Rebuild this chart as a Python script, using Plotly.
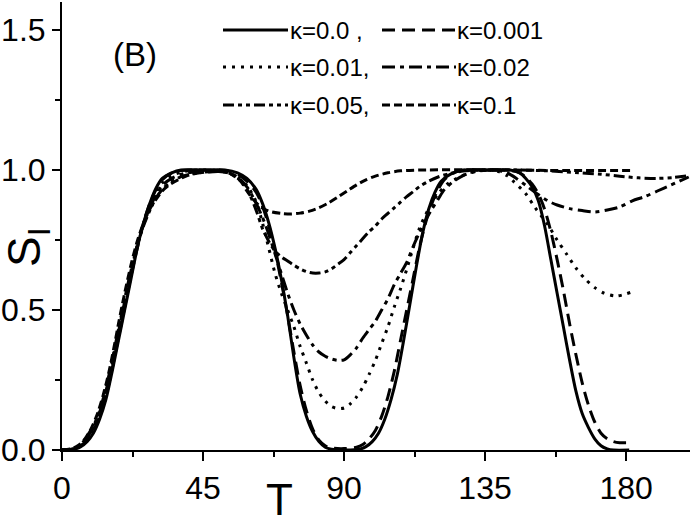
import plotly.graph_objects as go

# ---------------- data ----------------
T_k0 = [0, 4, 6, 8, 10, 12, 14, 16, 18, 20, 22, 24, 26, 28, 30, 32, 35, 38, 45, 52, 56, 59, 62, 64, 66, 68, 70, 72,
        74, 76, 78, 80, 82, 84, 86, 90, 95, 97, 99, 101, 103, 105, 107, 109, 111, 113, 115, 117, 119, 121, 124, 128,
        135, 143, 146, 148, 150, 152, 154, 156, 158, 160, 162, 164, 166, 168, 170, 172, 174, 176, 181]
S_k0 = [0, 0.003, 0.012, 0.03, 0.06, 0.11, 0.18, 0.28, 0.39, 0.50, 0.61, 0.72, 0.81, 0.88, 0.935, 0.97, 0.99, 1.0,
        1.0, 1.0, 0.99, 0.97, 0.93, 0.88, 0.81, 0.72, 0.61, 0.48, 0.33, 0.20, 0.12, 0.065, 0.03, 0.01, 0.003, 0,
        0.003, 0.012, 0.03, 0.06, 0.11, 0.18, 0.27, 0.39, 0.52, 0.65, 0.77, 0.86, 0.92, 0.96, 0.985, 1.0,
        1.0, 1.0, 0.99, 0.97, 0.94, 0.89, 0.80, 0.68, 0.56, 0.44, 0.32, 0.21, 0.13, 0.08, 0.04, 0.015, 0.004, 0.0, 0.0]

T_k001 = [0, 4, 6, 8, 10, 12, 14, 16, 18, 20, 22, 24, 26, 28, 30, 32, 35, 38, 45, 52, 56, 59, 62, 64, 66, 68, 70,
          72, 74, 76, 78, 80, 82, 84, 86, 90, 94, 96, 98, 100, 102, 104, 106, 108, 110, 112, 114, 116, 118, 120,
          122, 125, 129, 135, 143, 146, 148, 150, 152, 154, 156, 158, 160, 162, 164, 166, 168, 170, 172, 174, 176,
          178, 182]
S_k001 = [0, 0.004, 0.015, 0.035, 0.07, 0.12, 0.19, 0.29, 0.40, 0.51, 0.62, 0.72, 0.81, 0.88, 0.93, 0.965, 0.99,
          0.998, 1.0, 0.998, 0.985, 0.96, 0.92, 0.87, 0.80, 0.71, 0.60, 0.48, 0.35, 0.23, 0.14, 0.075, 0.035, 0.015,
          0.007, 0.005, 0.01, 0.02, 0.04, 0.07, 0.12, 0.19, 0.28, 0.39, 0.50, 0.61, 0.72, 0.81, 0.88, 0.93, 0.965,
          0.99, 1.0, 1.0, 0.998, 0.99, 0.975, 0.95, 0.915, 0.86, 0.78, 0.68, 0.57, 0.45, 0.34, 0.24, 0.16, 0.10,
          0.06, 0.04, 0.03, 0.026, 0.026]

T_k01 = [0, 4, 6, 8, 10, 12, 14, 16, 18, 20, 22, 24, 26, 28, 30, 32, 35, 39, 45, 50, 53, 56, 59, 62, 64, 66, 68,
         70, 72, 74, 76, 78, 80, 82, 84, 86, 88, 90, 92, 94, 96, 98, 100, 102, 104, 106, 108, 110, 112, 114, 116,
         118, 120, 123, 126, 130, 135, 139, 142, 144, 148, 151, 155, 158, 161, 164, 167, 170, 173, 177, 182]
S_k01 = [0, 0.004, 0.015, 0.04, 0.075, 0.13, 0.20, 0.30, 0.41, 0.52, 0.63, 0.73, 0.81, 0.875, 0.925, 0.955, 0.98,
         0.995, 1.0, 0.998, 0.99, 0.975, 0.945, 0.885, 0.81, 0.72, 0.63, 0.56, 0.50, 0.44, 0.37, 0.31, 0.25, 0.205,
         0.175, 0.155, 0.148, 0.15, 0.165, 0.19, 0.225, 0.27, 0.32, 0.38, 0.44, 0.51, 0.575, 0.645, 0.72, 0.79,
         0.84, 0.88, 0.915, 0.95, 0.97, 0.99, 1.0, 0.995, 0.98, 0.96, 0.915, 0.865, 0.805, 0.75, 0.70, 0.65, 0.61,
         0.58, 0.56, 0.55, 0.565]

T_k02 = [0, 4, 6, 8, 10, 12, 14, 16, 18, 20, 22, 24, 26, 28, 30, 32, 35, 39, 45, 50, 53, 56, 59, 62, 64, 66, 68,
         70, 72, 74, 76, 78, 80, 82, 84, 86, 88, 90, 92, 94, 96, 98, 100, 102, 104, 106, 108, 110, 112, 114, 116,
         118, 120, 122, 125, 128, 132, 138, 142, 145, 148, 151, 155, 158, 162, 166, 170, 174, 178, 182, 186, 190,
         194, 197, 200]
S_k02 = [0, 0.004, 0.016, 0.045, 0.08, 0.135, 0.21, 0.31, 0.42, 0.53, 0.635, 0.73, 0.805, 0.865, 0.91, 0.945, 0.97,
         0.988, 0.995, 0.995, 0.99, 0.975, 0.94, 0.88, 0.83, 0.77, 0.70, 0.63, 0.56, 0.50, 0.45, 0.41, 0.375, 0.35,
         0.335, 0.325, 0.32, 0.322, 0.34, 0.365, 0.40, 0.43, 0.46, 0.50, 0.54, 0.59, 0.63, 0.67, 0.725, 0.775, 0.82,
         0.86, 0.895, 0.93, 0.96, 0.98, 0.995, 1.0, 0.99, 0.97, 0.945, 0.92, 0.89, 0.875, 0.862, 0.855, 0.85, 0.857,
         0.868, 0.89, 0.905, 0.925, 0.945, 0.96, 0.975]

T_k05 = [0, 4, 6, 8, 10, 12, 14, 16, 18, 20, 22, 24, 26, 28, 30, 32, 35, 39, 44, 50, 53, 55, 58, 60, 62, 64, 66,
         68, 70, 72, 74, 76, 78, 80, 82, 84, 86, 88, 90, 92, 94, 96, 98, 100, 102, 104, 106, 108, 110, 112, 114,
         117, 120, 124, 128, 135, 145, 155, 165, 172, 178, 184, 190, 195, 200]
S_k05 = [0, 0.005, 0.018, 0.05, 0.085, 0.14, 0.22, 0.32, 0.43, 0.54, 0.64, 0.73, 0.80, 0.855, 0.90, 0.93, 0.96,
         0.98, 0.99, 0.995, 0.99, 0.98, 0.95, 0.91, 0.855, 0.79, 0.745, 0.71, 0.69, 0.675, 0.66, 0.647, 0.637,
         0.632, 0.632, 0.636, 0.647, 0.663, 0.68, 0.705, 0.73, 0.755, 0.78, 0.80, 0.825, 0.845, 0.865, 0.885,
         0.905, 0.922, 0.94, 0.96, 0.975, 0.988, 0.996, 1.0, 1.0, 0.997, 0.99, 0.985, 0.978, 0.972, 0.97, 0.973,
         0.98]

T_k1 = [0, 3, 5, 7, 9, 11, 13, 15, 17, 18, 20, 22, 24, 26, 28, 30, 32, 34, 37, 40, 44, 48, 52, 54, 57, 59, 61, 63,
        65, 67, 70, 73, 76, 79, 82, 85, 88, 91, 94, 97, 100, 104, 108, 114, 140, 160, 182]
S_k1 = [0, 0.005, 0.015, 0.035, 0.07, 0.12, 0.19, 0.28, 0.39, 0.45, 0.56, 0.66, 0.745, 0.81, 0.86, 0.895, 0.925,
        0.945, 0.965, 0.98, 0.99, 0.995, 0.995, 0.985, 0.96, 0.925, 0.895, 0.872, 0.858, 0.85, 0.845, 0.843, 0.846,
        0.853, 0.865, 0.882, 0.903, 0.925, 0.947, 0.965, 0.978, 0.99, 0.997, 1.0, 1.0, 0.998, 0.998]

labels = ["κ=0.0 ,", "κ=0.001", "κ=0.01,", "κ=0.02", "κ=0.05,", "κ=0.1"]
x_ticks = [0, 45, 90, 135, 180]
y_ticks = [0.0, 0.5, 1.0, 1.5]
y_tick_text = ["0.0", "0.5", "1.0", "1.5"]

# ---------------- styling ----------------
FONT = "Liberation Sans, Arial, Helvetica, sans-serif"
W = 3
dashes = ["solid", "13px,7px", "3px,6px", "13px,5px,4px,5px", "11px,4px,4px,4px,4px,4px", "8px,4px"]
series = [(T_k0, S_k0), (T_k001, S_k001), (T_k01, S_k01), (T_k02, S_k02), (T_k05, S_k05), (T_k1, S_k1)]

fig = go.Figure()
for (t, s), d, name in zip(series, dashes, labels):
    fig.add_trace(go.Scatter(x=t, y=s, mode="lines", name=name, showlegend=False,
                             line=dict(color="black", width=W, dash=d, shape="spline", smoothing=0.8)))

# ---- hand-drawn style legend (paper coordinates) ----
def px_x(px):
    return (px - 62) / 628.0

def px_y(py):
    return (450 - py) / 448.0

legend_rows = [30, 67, 105]
sample_cols = [(223, 288), (382, 456)]
text_cols = [288, 455]
shapes = []
annotations = []
for i, (name, d) in enumerate(zip(labels, dashes)):
    row = i // 2
    col = i % 2
    yy = px_y(legend_rows[row])
    x0, x1 = sample_cols[col]
    shapes.append(dict(type="line", xref="paper", yref="paper", x0=px_x(x0), x1=px_x(x1), y0=yy, y1=yy,
                       line=dict(color="black", width=W, dash=d)))
    annotations.append(dict(xref="paper", yref="paper", x=px_x(text_cols[col]), y=yy, text=name,
                            showarrow=False, xanchor="left", yanchor="middle",
                            font=dict(family=FONT, size=24, color="black")))

annotations.append(dict(xref="paper", yref="paper", x=px_x(135), y=px_y(55), text="(B)", showarrow=False,
                        xanchor="center", yanchor="middle", font=dict(family=FONT, size=33, color="black")))
annotations.append(dict(xref="paper", yref="paper", x=px_x(279), y=px_y(499), text="T", showarrow=False,
                        xanchor="center", yanchor="middle", font=dict(family=FONT, size=44, color="black")))
annotations.append(dict(xref="paper", yref="paper", x=px_x(27), y=px_y(247), text="S<sub>I</sub>",
                        showarrow=False, textangle=-90, xanchor="center", yanchor="middle",
                        font=dict(family=FONT, size=46, color="black")))

fig.update_layout(
    width=692, height=519,
    margin=dict(l=62, r=2, t=2, b=69, autoexpand=False),
    paper_bgcolor="white", plot_bgcolor="white",
    shapes=shapes, annotations=annotations,
    font=dict(family=FONT, color="black"),
)
fig.update_xaxes(range=[0, 200.4], tickvals=x_ticks, ticktext=[str(v) for v in x_ticks], automargin=False,
                 ticks="outside", ticklen=9, tickwidth=2, tickcolor="black",
                 showline=True, linecolor="black", linewidth=2, showgrid=False, zeroline=False,
                 tickfont=dict(family=FONT, size=32, color="black"),
                 minor=dict(dtick=22.5, tick0=0, ticks="outside", ticklen=5, tickwidth=2, tickcolor="black",
                            showgrid=False))
fig.update_yaxes(range=[0, 1.6], tickvals=y_ticks, ticktext=y_tick_text, automargin=False,
                 ticks="outside", ticklen=8, tickwidth=2, tickcolor="black",
                 showline=True, linecolor="black", linewidth=2, showgrid=False, zeroline=False,
                 tickfont=dict(family=FONT, size=32, color="black"),
                 minor=dict(dtick=0.25, tick0=0, ticks="outside", ticklen=5, tickwidth=2, tickcolor="black",
                            showgrid=False))

fig.write_html("out.html", config={"displayModeBar": False},
               post_script="document.body.style.margin='0px';document.body.style.overflow='hidden';")
